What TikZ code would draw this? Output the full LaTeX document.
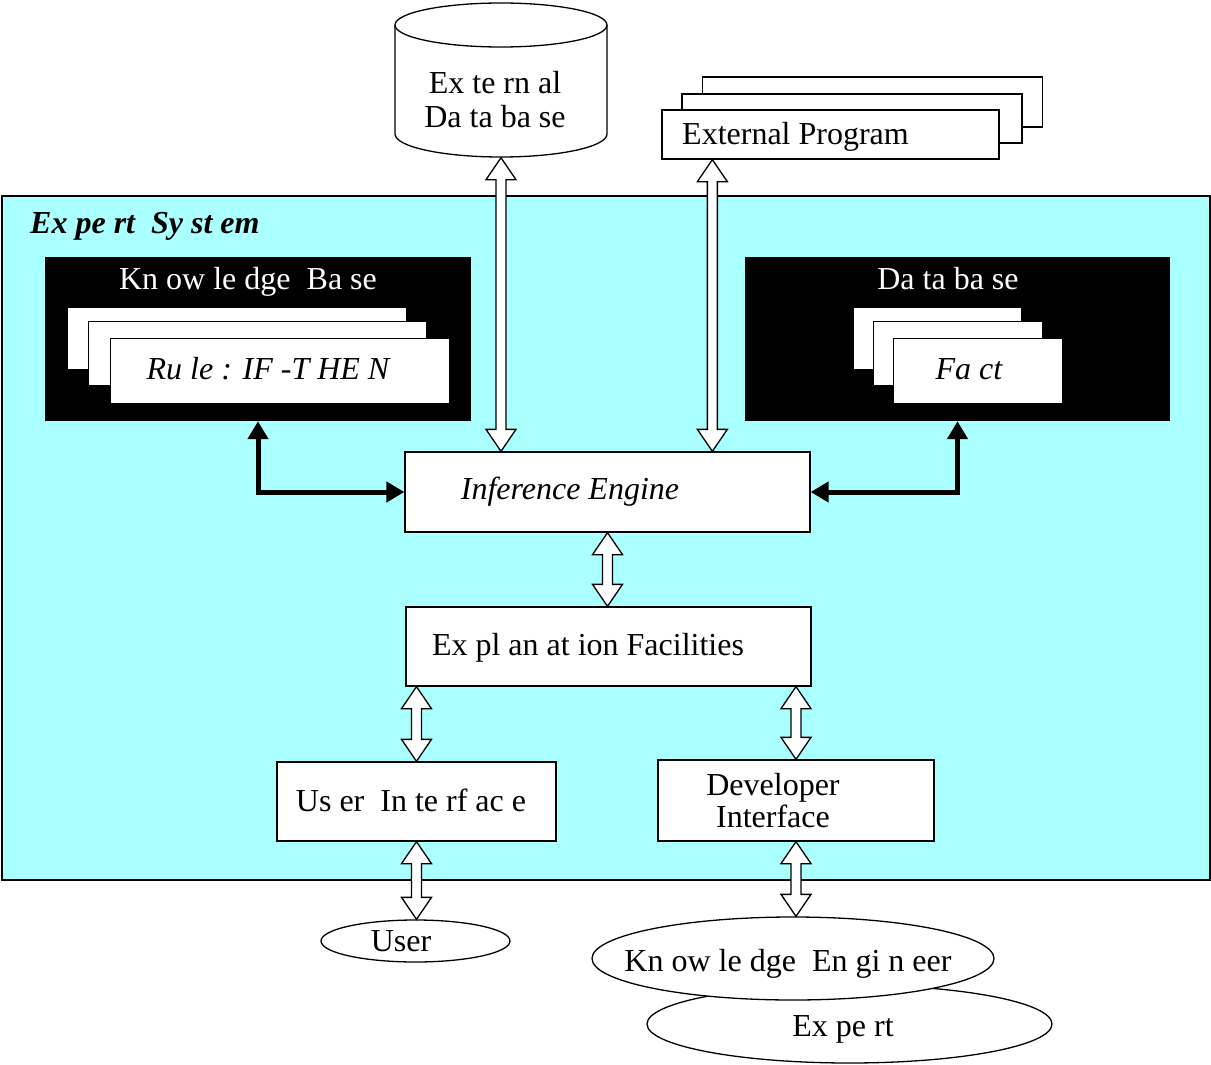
\documentclass[tikz,border=0pt]{standalone}
\usepackage{fontspec}
\setmainfont{Liberation Serif}
\usetikzlibrary{shapes.geometric,arrows.meta,calc}
\definecolor{bgcyan}{RGB}{170,255,255}
\begin{document}
\begin{tikzpicture}[x=1pt,y=1pt,
  every node/.style={font=\fontsize{32}{38}\selectfont},
  box/.style={draw, fill=white, line width=1.3pt, inner sep=0pt, rectangle},
  blackbox/.style={draw=none, fill=black, inner sep=0pt, rectangle},
  card/.style={draw=black, line width=0.6pt, fill=white, inner sep=0pt, rectangle},
  ell/.style={draw, fill=white, line width=1.3pt, ellipse, inner sep=0pt},
  lbl/.style={inner sep=0pt, anchor=base},
  hollow/.style={draw, fill=white, line width=1.3pt, line join=miter,
    to path={let \p1=(\tikztostart), \p2=(\tikztotarget) in
      (\x1,\y1) -- (\x1-15pt,\y1-22pt) -- (\x1-5pt,\y1-22pt) -- (\x1-5pt,\y2+22pt)
      -- (\x1-15pt,\y2+22pt) -- (\x1,\y2) -- (\x1+15pt,\y2+22pt) -- (\x1+5pt,\y2+22pt)
      -- (\x1+5pt,\y1-22pt) -- (\x1+15pt,\y1-22pt) -- cycle}},
  thickarr/.style={line width=5pt, line join=miter,
    {Triangle[width=20pt,length=18pt]}-{Triangle[width=20pt,length=18pt]}}
]
\useasboundingbox (0,0) rectangle (1211,-1065);

% Expert system frame
\node[draw, fill=bgcyan, line width=1.3pt, inner sep=0pt, minimum width=1208pt, minimum height=684pt] (es) at (606,-538) {};
\node[lbl, anchor=base west, font=\fontsize{32}{38}\selectfont\bfseries\itshape] (es-t) at (30,-233) {Ex pe rt\ \ Sy st em};

% External database (cylinder)
\node[inner sep=0pt, minimum width=212pt, minimum height=155pt] (extdb) at (501,-80) {};
\draw[line width=1.3pt, fill=white] (395,-25) -- (395,-134)
  arc[start angle=180, end angle=360, x radius=106pt, y radius=23pt] -- (607,-25);
\draw[line width=1.3pt, fill=white] (501,-25) ellipse[x radius=106pt, y radius=22pt];
\node[lbl] (extdb-t1) at (495,-94) {Ex te rn al};
\node[lbl] (extdb-t2) at (495,-128) {Da ta ba se};

% External program (stack)
\node[box, minimum width=340pt, minimum height=50pt] (extprog3) at (872.5,-102) {};
\node[box, minimum width=340pt, minimum height=49pt] (extprog2) at (852,-118.5) {};
\node[box, minimum width=337pt, minimum height=49pt] (extprog) at (830.5,-134.5) {};
\node[lbl, anchor=base west] (extprog-t) at (682,-144) {External Program};

% Knowledge base
\node[blackbox, minimum width=426pt, minimum height=164pt] (kb) at (258,-339) {};
\node[card, minimum width=339pt, minimum height=62pt] (kbc1) at (236.5,-338) {};
\node[card, minimum width=338pt, minimum height=64pt] (kbc2) at (257,-353) {};
\node[card, minimum width=339pt, minimum height=65pt] (kbc3) at (279.5,-370.5) {};
\node[lbl, text=white] (kb-t) at (248,-289) {Kn ow le dge\ \ Ba se};
\node[lbl, font=\fontsize{32}{38}\selectfont\itshape] (rule-t) at (268,-379) {Ru le : IF -T HE N};

% Database
\node[blackbox, minimum width=425pt, minimum height=164pt] (db) at (957.5,-339) {};
\node[card, minimum width=168pt, minimum height=62pt] (dbc1) at (937,-338) {};
\node[card, minimum width=169pt, minimum height=64pt] (dbc2) at (957.5,-353) {};
\node[card, minimum width=169pt, minimum height=65pt] (dbc3) at (977.5,-370.5) {};
\node[lbl, text=white] (db-t) at (948,-289) {Da ta ba se};
\node[lbl, font=\fontsize{32}{38}\selectfont\itshape] (fact-t) at (969,-379) {Fa ct};

% Inference engine
\node[box, minimum width=405pt, minimum height=80pt] (ie) at (607.5,-492) {};
\node[lbl, font=\fontsize{32}{38}\selectfont\itshape] (ie-t) at (570,-499) {Inference Engine};

% Explanation facilities
\node[box, minimum width=405pt, minimum height=79pt] (expl) at (608.5,-646.5) {};
\node[lbl] (expl-t) at (588,-655) {Ex pl an at ion Facilities};

% User interface
\node[box, minimum width=279pt, minimum height=79pt] (ui) at (416.5,-801.5) {};
\node[lbl] (ui-t) at (411,-811) {Us er\ \ In te rf ac e};

% Developer interface
\node[box, minimum width=276pt, minimum height=81pt] (di) at (796,-800.5) {};
\node[lbl] (di-t1) at (773,-795) {Developer};
\node[lbl] (di-t2) at (773,-827) {Interface};

% Ellipses
\node[ell, minimum width=189pt, minimum height=42pt] (user) at (415.5,-941) {};
\node[lbl] (user-t) at (401,-951) {User};
\node[ell, minimum width=405pt, minimum height=78pt] (expert) at (849.5,-1024) {};
\node[lbl] (expert-t) at (843,-1036) {Ex pe rt};
\node[ell, minimum width=402pt, minimum height=83pt] (ke) at (793,-958.5) {};
\node[lbl] (ke-t) at (788,-971) {Kn ow le dge\ \ En gi n eer};

% Hollow double arrows
\coordinate (epx) at ([xshift=51pt]extprog.south west);
\draw[hollow] (extdb.south) to (extdb.south |- ie.north);
\draw[hollow] (epx) to (epx |- ie.north);
\draw[hollow] (ie.south) to (ie.south |- expl.north);
\draw[hollow] (ui.north |- expl.south) to (ui.north);
\draw[hollow] (di.north |- expl.south) to (di.north);
\draw[hollow] (ui.south) to (ui.south |- user.north);
\draw[hollow] (di.south) to (di.south |- ke.north);

% Thick black arrows
\draw[thickarr] (kb.south) |- (ie.west);
\draw[thickarr] (db.south) |- (ie.east);
\end{tikzpicture}
\end{document}
